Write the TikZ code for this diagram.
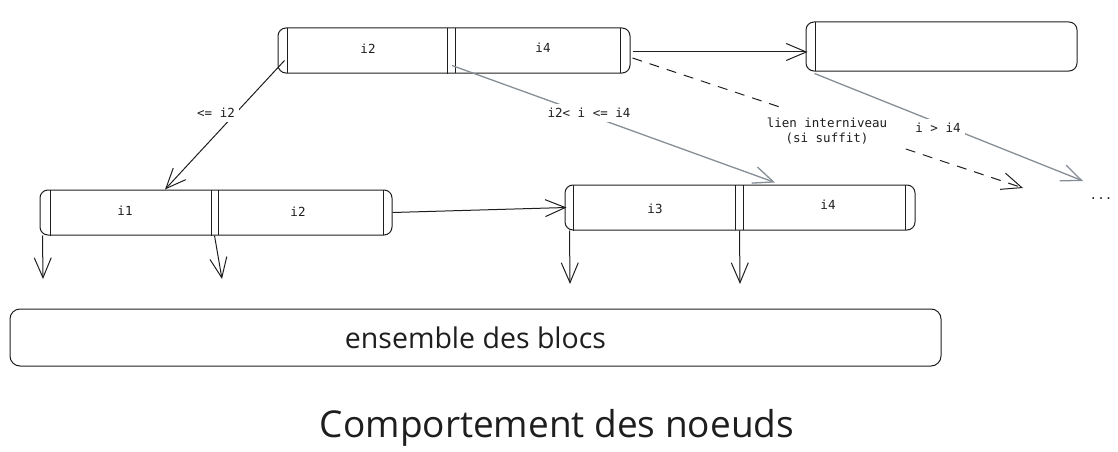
\documentclass[tikz,border=0pt]{standalone}
\usepackage{fontspec}
\setmainfont{Open Sans}
\newfontfamily\codefont{DejaVu Sans Mono}
\usetikzlibrary{arrows.meta,calc}
\definecolor{ink}{HTML}{1E1E1E}
\definecolor{grayline}{HTML}{868E96}
\begin{document}
\begin{tikzpicture}[x=1pt,y=-1pt,
  block/.style={draw=ink, line width=1pt, rounded corners=8pt, inner sep=0pt},
  sepline/.style={draw=ink, line width=1pt},
  conn/.style={draw=ink, line width=1pt, -{Straight Barb[length=20pt,width=17pt]}},
  grayconn/.style={conn, draw=grayline, line width=1.3pt},
  dashconn/.style={conn, dash pattern=on 10pt off 8pt},
  lbl/.style={font=\codefont\fontsize{12.5}{15}\selectfont, text=ink, fill=white, inner sep=4pt, align=center},
  cell/.style={font=\codefont\fontsize{12.5}{15}\selectfont, text=ink, inner sep=0pt},
]
\useasboundingbox (0,0) rectangle (1118,452);

% blocks
\node[block, minimum width=352pt, minimum height=45pt] (top) at (454,50.5) {};
\node[block, minimum width=271pt, minimum height=49pt] (topright) at (941.5,46.5) {};
\node[block, minimum width=352pt, minimum height=45pt] (left) at (216,212.5) {};
\node[block, minimum width=350pt, minimum height=45pt] (mid) at (740,207.5) {};
\node[block, minimum width=931pt, minimum height=57pt, rounded corners=10pt,
      font=\fontsize{28.5}{34}\selectfont, text=ink] (ens) at (475.5,337.5) {ensemble des blocs};

% inner separators
\draw[sepline] (287,28) -- (287,73);
\draw[sepline] (447,28) -- (447,74);
\draw[sepline] (455,28) -- (455,73);
\draw[sepline] (620,28) -- (620,73);
\draw[sepline] (815,22) -- (815,71);
\draw[sepline] (50,190) -- (50,236);
\draw[sepline] (211,190) -- (211,236);
\draw[sepline] (218,190) -- (218,235);
\draw[sepline] (383,190) -- (383,235);
\draw[sepline] (573,185) -- (573,231);
\draw[sepline] (735,185) -- (735,230);
\draw[sepline] (743,185) -- (743,230);
\draw[sepline] (905,185) -- (905,230);

% cell texts
\node[cell] (c12) at (368,49) {i2};
\node[cell] (c14) at (543,48) {i4};
\node[cell] (c21) at (125,211) {i1};
\node[cell] (c22) at (298,212) {i2};
\node[cell] (c33) at (655,209) {i3};
\node[cell] (c34) at (828,205) {i4};

% free ends
\coordinate (d1) at (43,279);
\coordinate (d2) at (222,279);
\coordinate (d3) at (570,284);
\coordinate (d4) at (740,284);
\coordinate (e1) at (1023,188);
\coordinate (e2) at (1083,181);

% connectors
\draw[conn] ($(top.west)+(7,10)$) -- ($(left.north)+(-51,0)$);
\draw[grayconn] ($(top.south)+(-2,-8)$) -- ($(mid.north)+(35,-2)$);
\draw[conn] ($(top.east)+(2,1.5)$) -- ($(topright.west)+(2,5.5)$);
\draw[dashconn] ($(top.east)+(2,7.5)$) -- (e1);
\draw[grayconn] ($(topright.south west)+(9,2)$) -- (e2);
\draw[conn] (left.east) -- ($(mid.west)+(2,0)$);
\draw[conn] ($(left.south west)+(3,0)$) -- (d1);
\draw[conn] ($(left.south west)+(175,0)$) -- (d2);
\draw[conn] ($(mid.south west)+(5,0)$) -- (d3);
\draw[conn] ($(mid.south west)+(175,0)$) -- (d4);

% labels
\node[lbl] (l1) at (216,113) {<= i2};
\node[lbl] (l2) at (589,113) {i2< i <= i4};
\node[lbl, inner xsep=12pt, inner ysep=10pt] (l3) at (827,131) {lien interniveau\\(si suffit)};
\node[lbl] (l4) at (938,128) {i > i4};
\node[cell] (dots) at (1101,199) {...};

% title
\node[font=\fontsize{37}{44}\selectfont, text=ink] (title) at (557,428) {Comportement des noeuds};
\end{tikzpicture}
\end{document}
